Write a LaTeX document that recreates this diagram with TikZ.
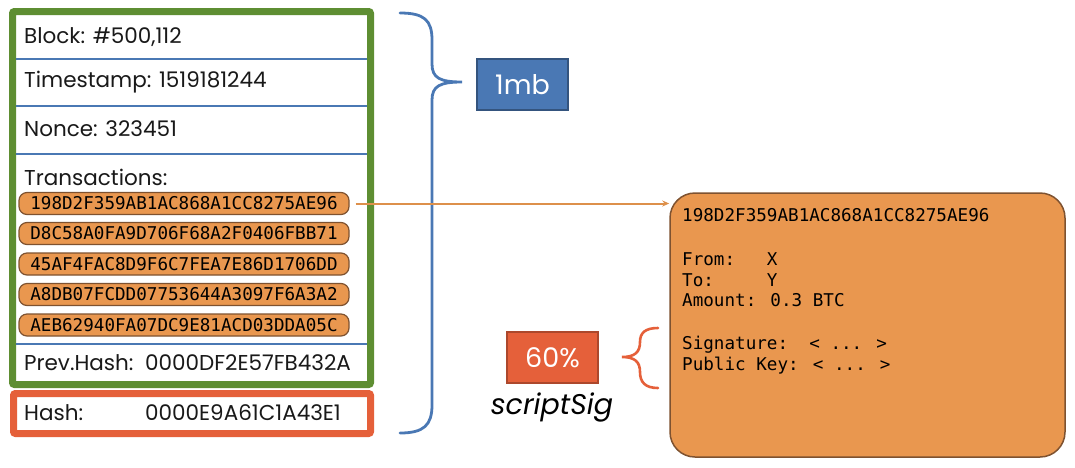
\documentclass[tikz,border=0pt]{standalone}
\usepackage{fontspec}
\setmainfont{Poppins}
\newfontfamily\monofont{DejaVu Sans Mono}
\usetikzlibrary{arrows.meta}
\definecolor{bgreen}{HTML}{5E8E32}
\definecolor{bblue}{HTML}{4A78B4}
\definecolor{borange}{HTML}{E9974F}
\definecolor{bbrown}{HTML}{7E5230}
\definecolor{bred}{HTML}{E5603A}
\begin{document}
\begin{tikzpicture}[x=1pt,y=-1pt,
  lbl/.style={anchor=west,inner sep=0pt,font=\fontsize{21.5}{24}\selectfont,text=black!90},
  pill/.style={draw=bbrown,fill=borange,line width=1.2pt,rounded corners=8pt,minimum width=330pt,minimum height=22pt,inner sep=0pt,font=\monofont\fontsize{17.6}{20}\selectfont},
  txl/.style={anchor=west,inner sep=0pt,font=\monofont\fontsize{17.6}{20}\selectfont},
  sep/.style={draw=bblue,line width=2.5pt},
  tag/.style={minimum width=91pt,minimum height=51pt,inner sep=0pt,text=white,font=\fontsize{27}{30}\selectfont,line width=1.5pt}
]
\useasboundingbox (0,0) rectangle (1075,467);
% green block box
\draw[bgreen,line width=7pt,fill=white,rounded corners=2pt] (12.5,11.5) rectangle (370.5,384.5);
\draw[sep] (16,59) -- (367,59);
\draw[sep] (16,106) -- (367,106);
\draw[sep] (16,154) -- (367,154);
\draw[sep,line width=2pt] (16,344) -- (367,344);
\node[lbl] (blk) at (24,37) {Block: \#500,112};
\node[lbl] (ts) at (24,82) {Timestamp: 1519181244};
\node[lbl] (nonce) at (24,129) {Nonce: 323451};
\node[lbl] (txs) at (24,177) {Transactions:};
\node[pill] (t1) at (184,203.5) {198D2F359AB1AC868A1CC8275AE96};
\node[pill] (t2) at (184,233.5) {D8C58A0FA9D706F68A2F0406FBB71};
\node[pill] (t3) at (184,264) {45AF4FAC8D9F6C7FEA7E86D1706DD};
\node[pill] (t4) at (184,294.5) {A8DB07FCDD07753644A3097F6A3A2};
\node[pill] (t5) at (184,325) {AEB62940FA07DC9E81ACD03DDA05C};
\node[lbl] (prev) at (24,363) {Prev.Hash:};
\node[lbl] (prevv) at (145,363) {0000DF2E57FB432A};
% hash box
\draw[bred,line width=7pt,fill=white,rounded corners=2pt] (13.5,393.5) rectangle (370.5,433.5);
\node[lbl] (hash) at (24,413) {Hash:};
\node[lbl] (hashv) at (145,413) {0000E9A61C1A43E1};
% blue brace
\draw[bblue,line width=2.8pt,line cap=round]
  (400,13) .. controls (424,13) and (432,20) .. (432,40) -- (432,64)
  .. controls (432,78) and (440,82) .. (462,82)
  .. controls (440,82) and (432,86) .. (432,100) -- (432,405)
  .. controls (432,425) and (424,433) .. (400,433);
\node[tag,fill=bblue,draw=bblue!70!black] (mb) at (522.5,84.5) {1mb};
% transaction detail box
\node[draw=bbrown,fill=borange,line width=1.5pt,rounded corners=25pt,minimum width=395pt,minimum height=264pt,inner sep=0pt] (tx) at (867.5,325) {};
\node[txl] (l1) at (682,215) {198D2F359AB1AC868A1CC8275AE96};
\node[txl] (l2) at (682,259) {From:\ \ \ X};
\node[txl] (l3) at (682,280) {To:\ \ \ \ \ Y};
\node[txl] (l4) at (682,300.5) {Amount: 0.3 BTC};
\node[txl] (l5) at (682,345) {Signature:\ \ < ... >};
\node[txl] (l6) at (682,366) {Public Key: < ... >};
\draw[borange!95!black,line width=2pt,-{Stealth[length=7pt,width=6pt]}] (t1.east) ++(6,0) -- (t1.east -| tx.west);
% red brace
\draw[bred,line width=2.6pt,line cap=round]
  (658,328) .. controls (645,328) and (640,333) .. (640,342)
  .. controls (640,352) and (635,357) .. (622,357)
  .. controls (635,357) and (640,362) .. (640,372)
  .. controls (640,382) and (645,388) .. (658,388);
\node[tag,fill=bred,draw=bred!75!black] (pct) at (552.5,357.5) {60\%};
\node[inner sep=0pt,font=\itshape\fontsize{28.5}{32}\selectfont] (ss) at (552,407) {scriptSig};
\end{tikzpicture}
\end{document}
